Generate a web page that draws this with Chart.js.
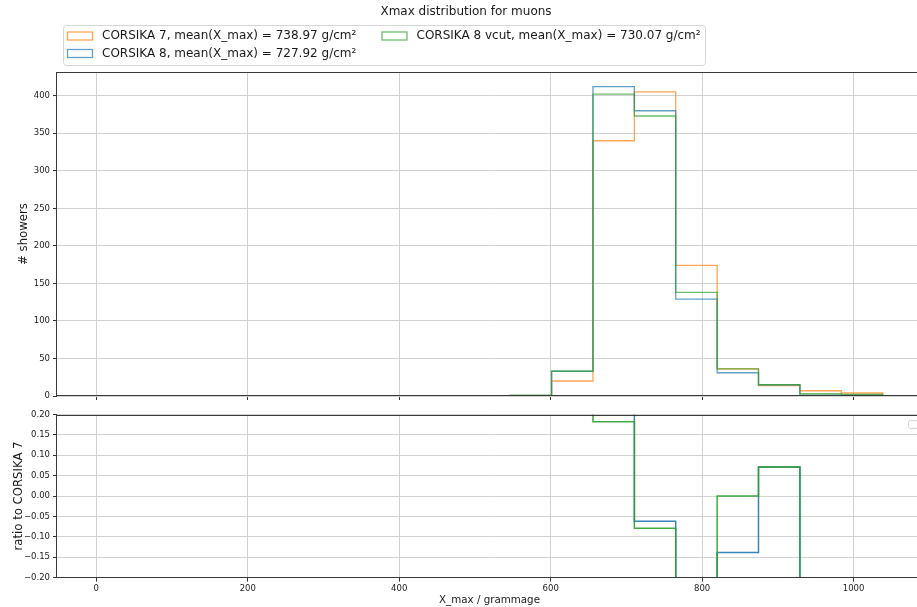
<!DOCTYPE html>
<html>
<head>
<meta charset="utf-8">
<script src="https://cdn.jsdelivr.net/npm/chart.js@4.4.1/dist/chart.umd.min.js"></script>
<style>
  html, body { margin: 0; padding: 0; background: #fff; overflow: hidden; }
  #wrap { position: relative; width: 917px; height: 607px; overflow: hidden; }
  #histChart { position: absolute; left: 0; top: 0; }
  #ratioChart { position: absolute; left: 0; top: 400px; }
</style>
</head>
<body>
<div id="wrap">
  <canvas id="histChart" width="922" height="400"></canvas>
  <canvas id="ratioChart" width="922" height="207"></canvas>
</div>
<script>
const chartTitle = 'Xmax distribution for muons';
const binEdges = [0, 54.7, 109.3, 164.0, 218.6, 273.3, 327.9, 382.6, 437.2, 491.9,
  546.5, 601.2, 655.8, 710.5, 765.1, 819.8, 874.4, 929.1, 983.7, 1038.4];
const c7Counts     = [0, 0, 0, 0, 0, 0, 0, 0, 0, 0, 0, 20, 340, 405, 174, 36, 14, 7, 4];
const c8Counts     = [0, 0, 0, 0, 0, 0, 0, 0, 0, 0, 0, 33, 412, 380, 129, 31, 15, 1, 1];
const c8vcutCounts = [0, 0, 0, 0, 0, 0, 0, 0, 0, 0, 1, 33, 402, 373, 138, 36, 15, 3, 2];
const seriesLabels = [
  'CORSIKA 7, mean(X_max) = 738.97 g/cm²',
  'CORSIKA 8, mean(X_max) = 727.92 g/cm²',
  'CORSIKA 8 vcut, mean(X_max) = 730.07 g/cm²'
];
const xTicks = [0, 200, 400, 600, 800, 1000];
const countTicks = [0, 50, 100, 150, 200, 250, 300, 350, 400];
const ratioTicks = [-0.2, -0.15, -0.1, -0.05, 0, 0.05, 0.1, 0.15, 0.2];

const FONT = '"DejaVu Sans", sans-serif';
const orange = 'rgba(255,127,14,0.7)';
const blue = 'rgba(31,119,180,0.7)';
const green = 'rgba(44,160,44,0.7)';
const gridColor = '#d2d2d2';

// histogram outline, like histtype='step'
function stepPoints(counts) {
  const pts = [{ x: binEdges[0], y: 0 }];
  counts.forEach((c, i) => {
    pts.push({ x: binEdges[i], y: c }, { x: binEdges[i + 1], y: c });
  });
  pts.push({ x: binEdges[binEdges.length - 1], y: 0 });
  return pts;
}

function ratioPoints(num, den) {
  const pts = [];
  num.forEach((c, i) => {
    if (den[i] === 0) {
      pts.push({ x: (binEdges[i] + binEdges[i + 1]) / 2, y: null });
      return;
    }
    const r = c / den[i] - 1;
    pts.push({ x: binEdges[i], y: r }, { x: binEdges[i + 1], y: r });
  });
  return pts;
}

function fixedSize(prop, size) {
  return function (scale) {
    scale[prop] = size;
    scale.paddingTop = 0;
    scale.paddingBottom = 0;
    scale.paddingLeft = 0;
    scale.paddingRight = 0;
  };
}

function setTicks(values) {
  return function (scale) {
    scale.ticks = values.map(v => ({ value: v }));
  };
}

const frame = {
  id: 'frame',
  afterDatasetsDraw(chart) {
    const { ctx, chartArea: { left, top, right, bottom } } = chart;
    ctx.save();
    ctx.strokeStyle = '#3a3a3a';
    ctx.lineWidth = 1;
    ctx.strokeRect(Math.round(left) - 0.5, Math.round(top) + 0.5,
      Math.round(right) - Math.round(left) + 1, Math.round(bottom) - Math.round(top) - 1);
    ctx.restore();
  }
};

const header = {
  id: 'header',
  afterDraw(chart) {
    const ctx = chart.ctx;
    ctx.save();
    ctx.fillStyle = '#1a1a1a';
    ctx.font = '12px ' + FONT;
    ctx.textAlign = 'center';
    ctx.textBaseline = 'middle';
    ctx.fillText(chartTitle, 466, 12);

    // legend box, two columns like matplotlib ncol=2
    ctx.beginPath();
    ctx.roundRect(63.5, 25.5, 642, 40, 3);
    ctx.fillStyle = 'rgba(255,255,255,0.8)';
    ctx.fill();
    ctx.strokeStyle = '#d6d6d6';
    ctx.stroke();

    const slots = [[67, 36], [67, 53.5], [381.5, 36]];
    chart.data.datasets.forEach((ds, i) => {
      const [x, y] = slots[i];
      ctx.strokeStyle = ds.borderColor;
      ctx.lineWidth = 1.3;
      ctx.strokeRect(x + 0.5, y - 4, 25, 8);
      ctx.fillStyle = '#1a1a1a';
      ctx.textAlign = 'left';
      ctx.fillText(ds.label, x + 35, y);
    });
    ctx.restore();
  }
};

const emptyLegend = {
  id: 'emptyLegend',
  afterDraw(chart) {
    const ctx = chart.ctx;
    ctx.save();
    ctx.beginPath();
    ctx.roundRect(908.5, 20.5, 9, 8, 2);
    ctx.strokeStyle = '#d6d6d6';
    ctx.lineWidth = 1;
    ctx.stroke();
    ctx.restore();
  }
};

function xScale(showLabels, height) {
  return {
    type: 'linear',
    min: -51.9,
    max: 1090.3,
    afterBuildTicks: setTicks(xTicks),
    afterFit: fixedSize('height', height),
    border: { display: false },
    grid: { color: gridColor, lineWidth: 1, tickLength: 4, tickColor: '#333' },
    ticks: {
      autoSkip: false,
      maxRotation: 0,
      padding: 2,
      color: '#222',
      font: { family: FONT, size: 8.5 },
      callback: v => showLabels ? String(v) : ''
    },
    title: showLabels ? {
      display: true,
      text: 'X_max / grammage',
      color: '#1a1a1a',
      padding: 0,
      font: { family: FONT, size: 10.3 }
    } : { display: false }
  };
}

function yScale(min, max, ticks, fmt, titleText, titlePad) {
  return {
    type: 'linear',
    min: min,
    max: max,
    afterBuildTicks: setTicks(ticks),
    afterFit: fixedSize('width', 57),
    border: { display: false },
    grid: { color: gridColor, lineWidth: 1, tickLength: 4, tickColor: '#333' },
    ticks: {
      autoSkip: false,
      padding: 3,
      color: '#222',
      font: { family: FONT, size: 8.5 },
      callback: fmt
    },
    title: {
      display: true,
      text: titleText,
      color: '#1a1a1a',
      padding: { top: titlePad, bottom: 0 },
      font: { family: FONT, size: 11.7 }
    }
  };
}

const lineStyle = {
  pointRadius: 0,
  tension: 0,
  fill: false,
  borderJoinStyle: 'miter',
  spanGaps: false
};

new Chart(document.getElementById('histChart'), {
  type: 'line',
  data: {
    datasets: [
      { ...lineStyle, label: seriesLabels[0], data: stepPoints(c7Counts), borderColor: orange, borderWidth: 1.3, order: 3 },
      { ...lineStyle, label: seriesLabels[1], data: stepPoints(c8Counts), borderColor: blue, borderWidth: 1.3, order: 2 },
      { ...lineStyle, label: seriesLabels[2], data: stepPoints(c8vcutCounts), borderColor: green, borderWidth: 1.3, order: 1 }
    ]
  },
  options: {
    responsive: false,
    animation: false,
    layout: { padding: { top: 72, left: 0, right: 0, bottom: 0 } },
    plugins: { legend: { display: false }, tooltip: { enabled: false } },
    scales: {
      x: xScale(false, 4),
      y: yScale(0, 431.6, countTicks, v => String(v), '# showers', 16.5)
    }
  },
  plugins: [frame, header]
});

new Chart(document.getElementById('ratioChart'), {
  type: 'line',
  data: {
    datasets: [
      { ...lineStyle, label: 'CORSIKA 8', data: ratioPoints(c8Counts, c7Counts), borderColor: 'rgba(31,119,180,0.9)', borderWidth: 1.5, order: 2 },
      { ...lineStyle, label: 'CORSIKA 8 vcut', data: ratioPoints(c8vcutCounts, c7Counts), borderColor: 'rgba(44,160,44,0.9)', borderWidth: 1.5, order: 1 }
    ]
  },
  options: {
    responsive: false,
    animation: false,
    layout: { padding: { top: 14.5, left: 0, right: 0, bottom: 0 } },
    plugins: { legend: { display: false }, tooltip: { enabled: false } },
    scales: {
      x: xScale(true, 29.5),
      y: yScale(-0.2, 0.2, ratioTicks, v => v.toFixed(2).replace('-', '\u2212'), 'ratio to CORSIKA 7', 12)
    }
  },
  plugins: [frame, emptyLegend]
});
</script>
</body>
</html>
